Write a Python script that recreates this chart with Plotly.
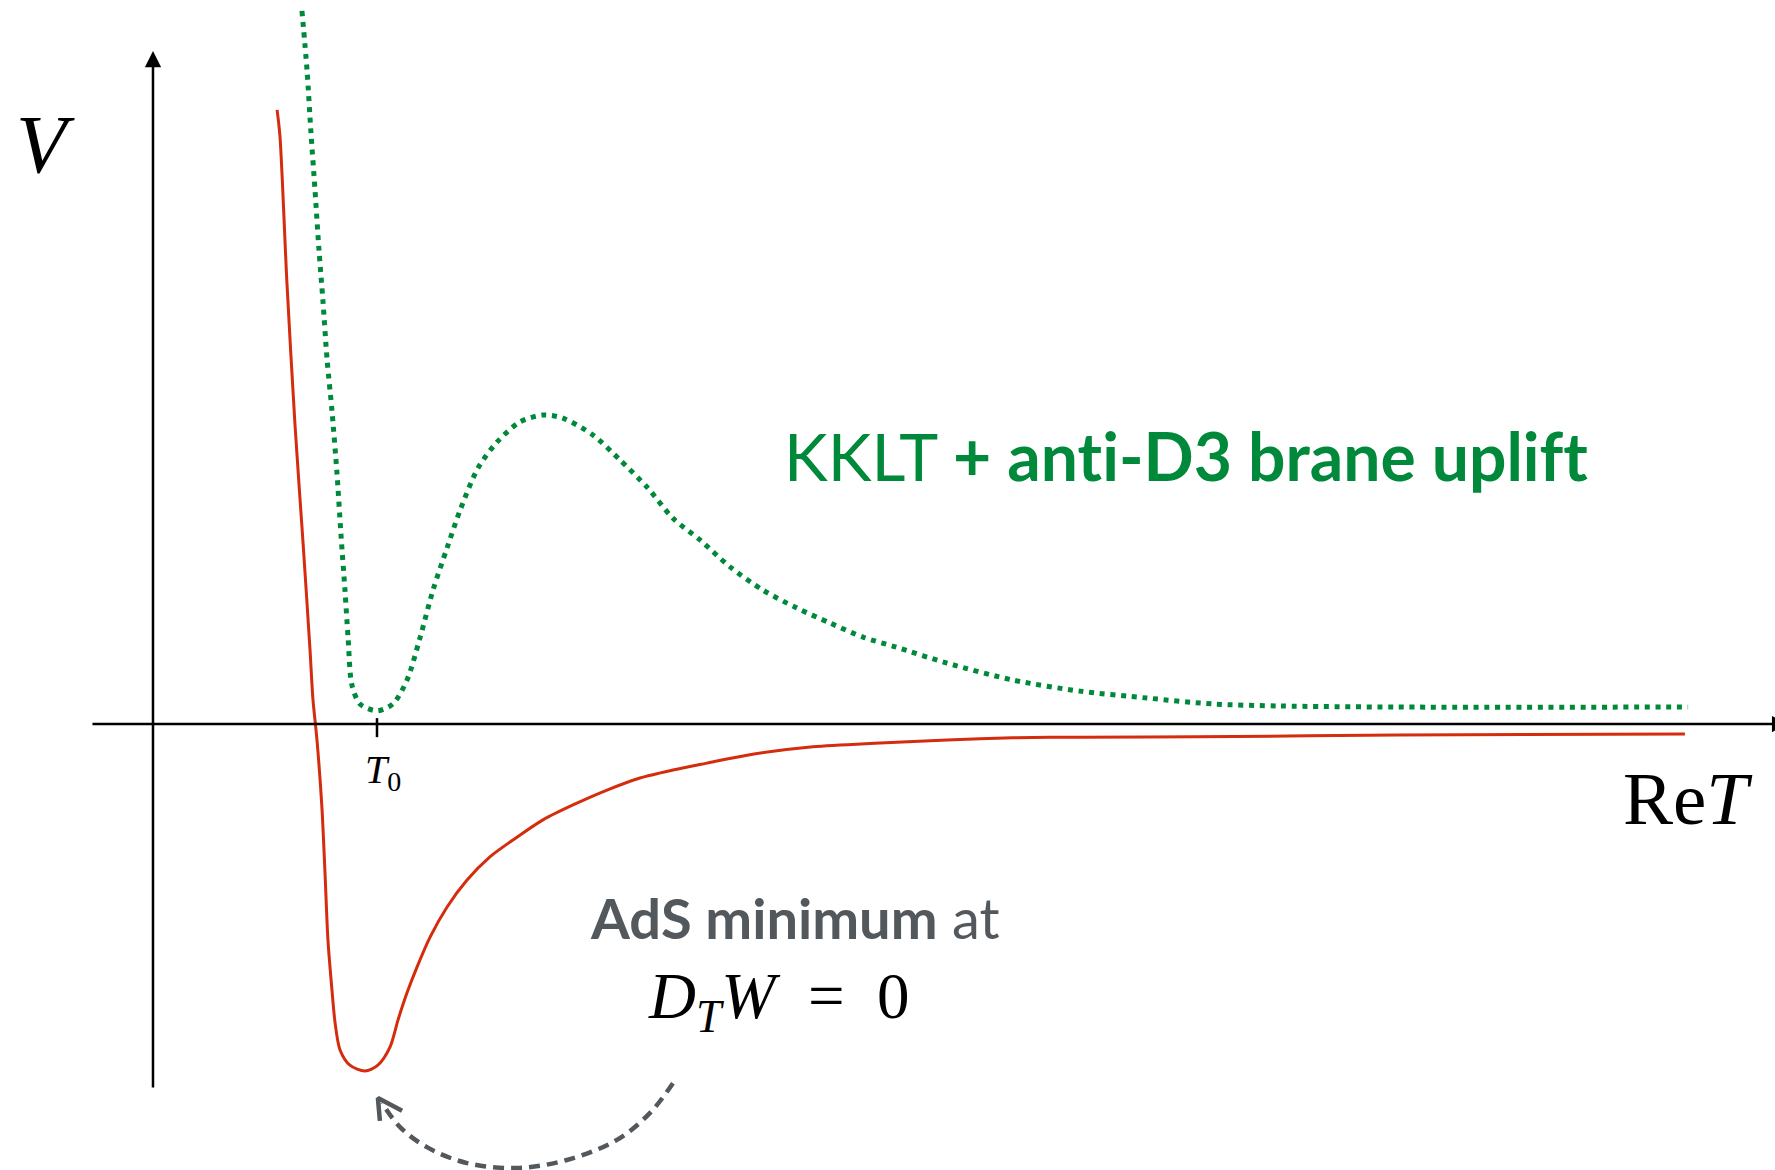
import plotly.graph_objects as go

# ---- data (x in units of T0, y in units of |V_AdS min|) ----
red_x = [0.554, 0.567, 0.598, 0.634, 0.670, 0.701, 0.714, 0.732, 0.754, 0.768, 0.781, 0.799,
         0.813, 0.835, 0.879, 0.946, 1.004, 1.058, 1.094, 1.134, 1.179, 1.237, 1.313, 1.402,
         1.504, 1.625, 1.741, 1.875, 2.027, 2.174, 2.321, 2.473, 2.652, 2.946, 3.246, 3.545,
         3.839, 4.138, 4.661, 5.554, 6.839]
red_y = [1.775, 1.697, 1.275, 0.864, 0.523, 0.214, 0.072, -0.046, -0.240, -0.431, -0.624, -0.769,
         -0.864, -0.942, -0.986, -1.003, -0.986, -0.934, -0.855, -0.777, -0.702, -0.616, -0.529, -0.451,
         -0.384, -0.327, -0.277, -0.234, -0.191, -0.156, -0.133, -0.113, -0.090, -0.066, -0.055, -0.046,
         -0.040, -0.038, -0.037, -0.032, -0.029]

green_x = [0.665, 0.688, 0.705, 0.723, 0.741, 0.759, 0.777, 0.799, 0.821, 0.839, 0.857, 0.871,
           0.888, 0.924, 1.000, 1.071, 1.134, 1.192, 1.250, 1.313, 1.371, 1.451, 1.536, 1.638,
           1.741, 1.830, 1.964, 2.085, 2.205, 2.321, 2.442, 2.576, 2.723, 2.875, 3.022, 3.170,
           3.313, 3.545, 3.839, 4.138, 4.438, 4.732, 5.031, 5.554, 6.853]
green_y = [2.061, 1.887, 1.711, 1.546, 1.370, 1.220, 1.055, 0.905, 0.728, 0.549, 0.387, 0.249,
           0.113, 0.058, 0.038, 0.058, 0.127, 0.249, 0.387, 0.509, 0.618, 0.740, 0.815, 0.873,
           0.893, 0.884, 0.835, 0.763, 0.685, 0.595, 0.532, 0.454, 0.387, 0.335, 0.292, 0.251,
           0.223, 0.176, 0.127, 0.095, 0.075, 0.058, 0.052, 0.049, 0.049]

T0 = 1.0
tick_labels = ["<i>T</i><sub>0</sub>"]

# ---- decoration geometry ----
arc_x = [2.321, 2.219, 2.071, 1.848, 1.625, 1.402, 1.223, 1.103, 1.022]
arc_y = [-1.038, -1.124, -1.202, -1.260, -1.283, -1.269, -1.223, -1.165, -1.095]
head_x = [1.112, 1.004, 1.013]
head_y = [-1.118, -1.081, -1.147]

RED = "#D42C0C"
GREEN = "#00893A"
GRAY = "#53585D"
SERIF = "Liberation Serif, Times New Roman, serif"
SANS = "Lato, Open Sans, sans-serif"
ZWNJ = "&#8204;"

fig = go.Figure()

fig.add_trace(go.Scatter(x=green_x, y=green_y, mode="lines",
                         line=dict(color=GREEN, width=5, dash="5px,5.7px", shape="spline", smoothing=0.8),
                         hoverinfo="skip", showlegend=False))
fig.add_trace(go.Scatter(x=red_x, y=red_y, mode="lines",
                         line=dict(color=RED, width=3, shape="spline", smoothing=0.8),
                         hoverinfo="skip", showlegend=False))
fig.add_trace(go.Scatter(x=arc_x, y=arc_y, mode="lines",
                         line=dict(color=GRAY, width=4.5, dash="11px,7px", shape="spline"),
                         hoverinfo="skip", showlegend=False, cliponaxis=False))
fig.add_trace(go.Scatter(x=head_x, y=head_y, mode="lines",
                         line=dict(color=GRAY, width=4.5),
                         hoverinfo="skip", showlegend=False))

# axes with arrows
fig.add_annotation(x=0, y=1.945, ax=0, ay=-1.055, xref="x", yref="y", axref="x", ayref="y",
                   showarrow=True, arrowhead=2, arrowsize=1.3, arrowwidth=2.5, arrowcolor="black", text="")
fig.add_annotation(x=7.30, y=0, ax=-0.277, ay=0, xref="x", yref="y", axref="x", ayref="y",
                   showarrow=True, arrowhead=2, arrowsize=1.3, arrowwidth=2.5, arrowcolor="black", text="")
fig.add_shape(type="line", x0=T0, x1=T0, y0=0.017, y1=-0.038, line=dict(color="black", width=2.5))

# labels
fig.add_annotation(x=T0 + 0.027, y=-0.14, text=tick_labels[0], showarrow=False,
                   font=dict(family=SERIF, size=40, color="black"))
fig.add_annotation(x=-0.478, y=1.676, text="<i>V</i>", showarrow=False,
                   font=dict(family=SERIF, size=83, color="black"))
fig.add_annotation(x=6.853, y=-0.215, text="Re<i>T</i>", showarrow=False,
                   font=dict(family=SERIF, size=75, color="black"))
fig.add_annotation(x=2.81, y=0.775, xanchor="left", showarrow=False,
                   text="KKLT <b>+ ant" + ZWNJ + "i-D3 brane upli" + ZWNJ + "f" + ZWNJ + "t</b>",
                   font=dict(family=SANS, size=66, color=GREEN))
fig.add_annotation(x=1.940, y=-0.56, xanchor="left", showarrow=False,
                   text="<b>AdS minimum</b> at",
                   font=dict(family=SANS, size=56, color=GRAY))
fig.add_annotation(x=2.200, y=-0.80, xanchor="left", showarrow=False,
                   text="<i>D</i><sub><i>T</i></sub><i>W</i>&nbsp; = &nbsp;0",
                   font=dict(family=SERIF, size=65, color="black"))

fig.update_xaxes(range=[-0.6830, 7.2411], visible=False)
fig.update_yaxes(range=[-1.2890, 2.0925], visible=False)
fig.update_layout(width=1775, height=1170, margin=dict(l=0, r=0, t=0, b=0),
                  paper_bgcolor="white", plot_bgcolor="white", showlegend=False)

fig.write_html("out.html", config={"displayModeBar": False})
